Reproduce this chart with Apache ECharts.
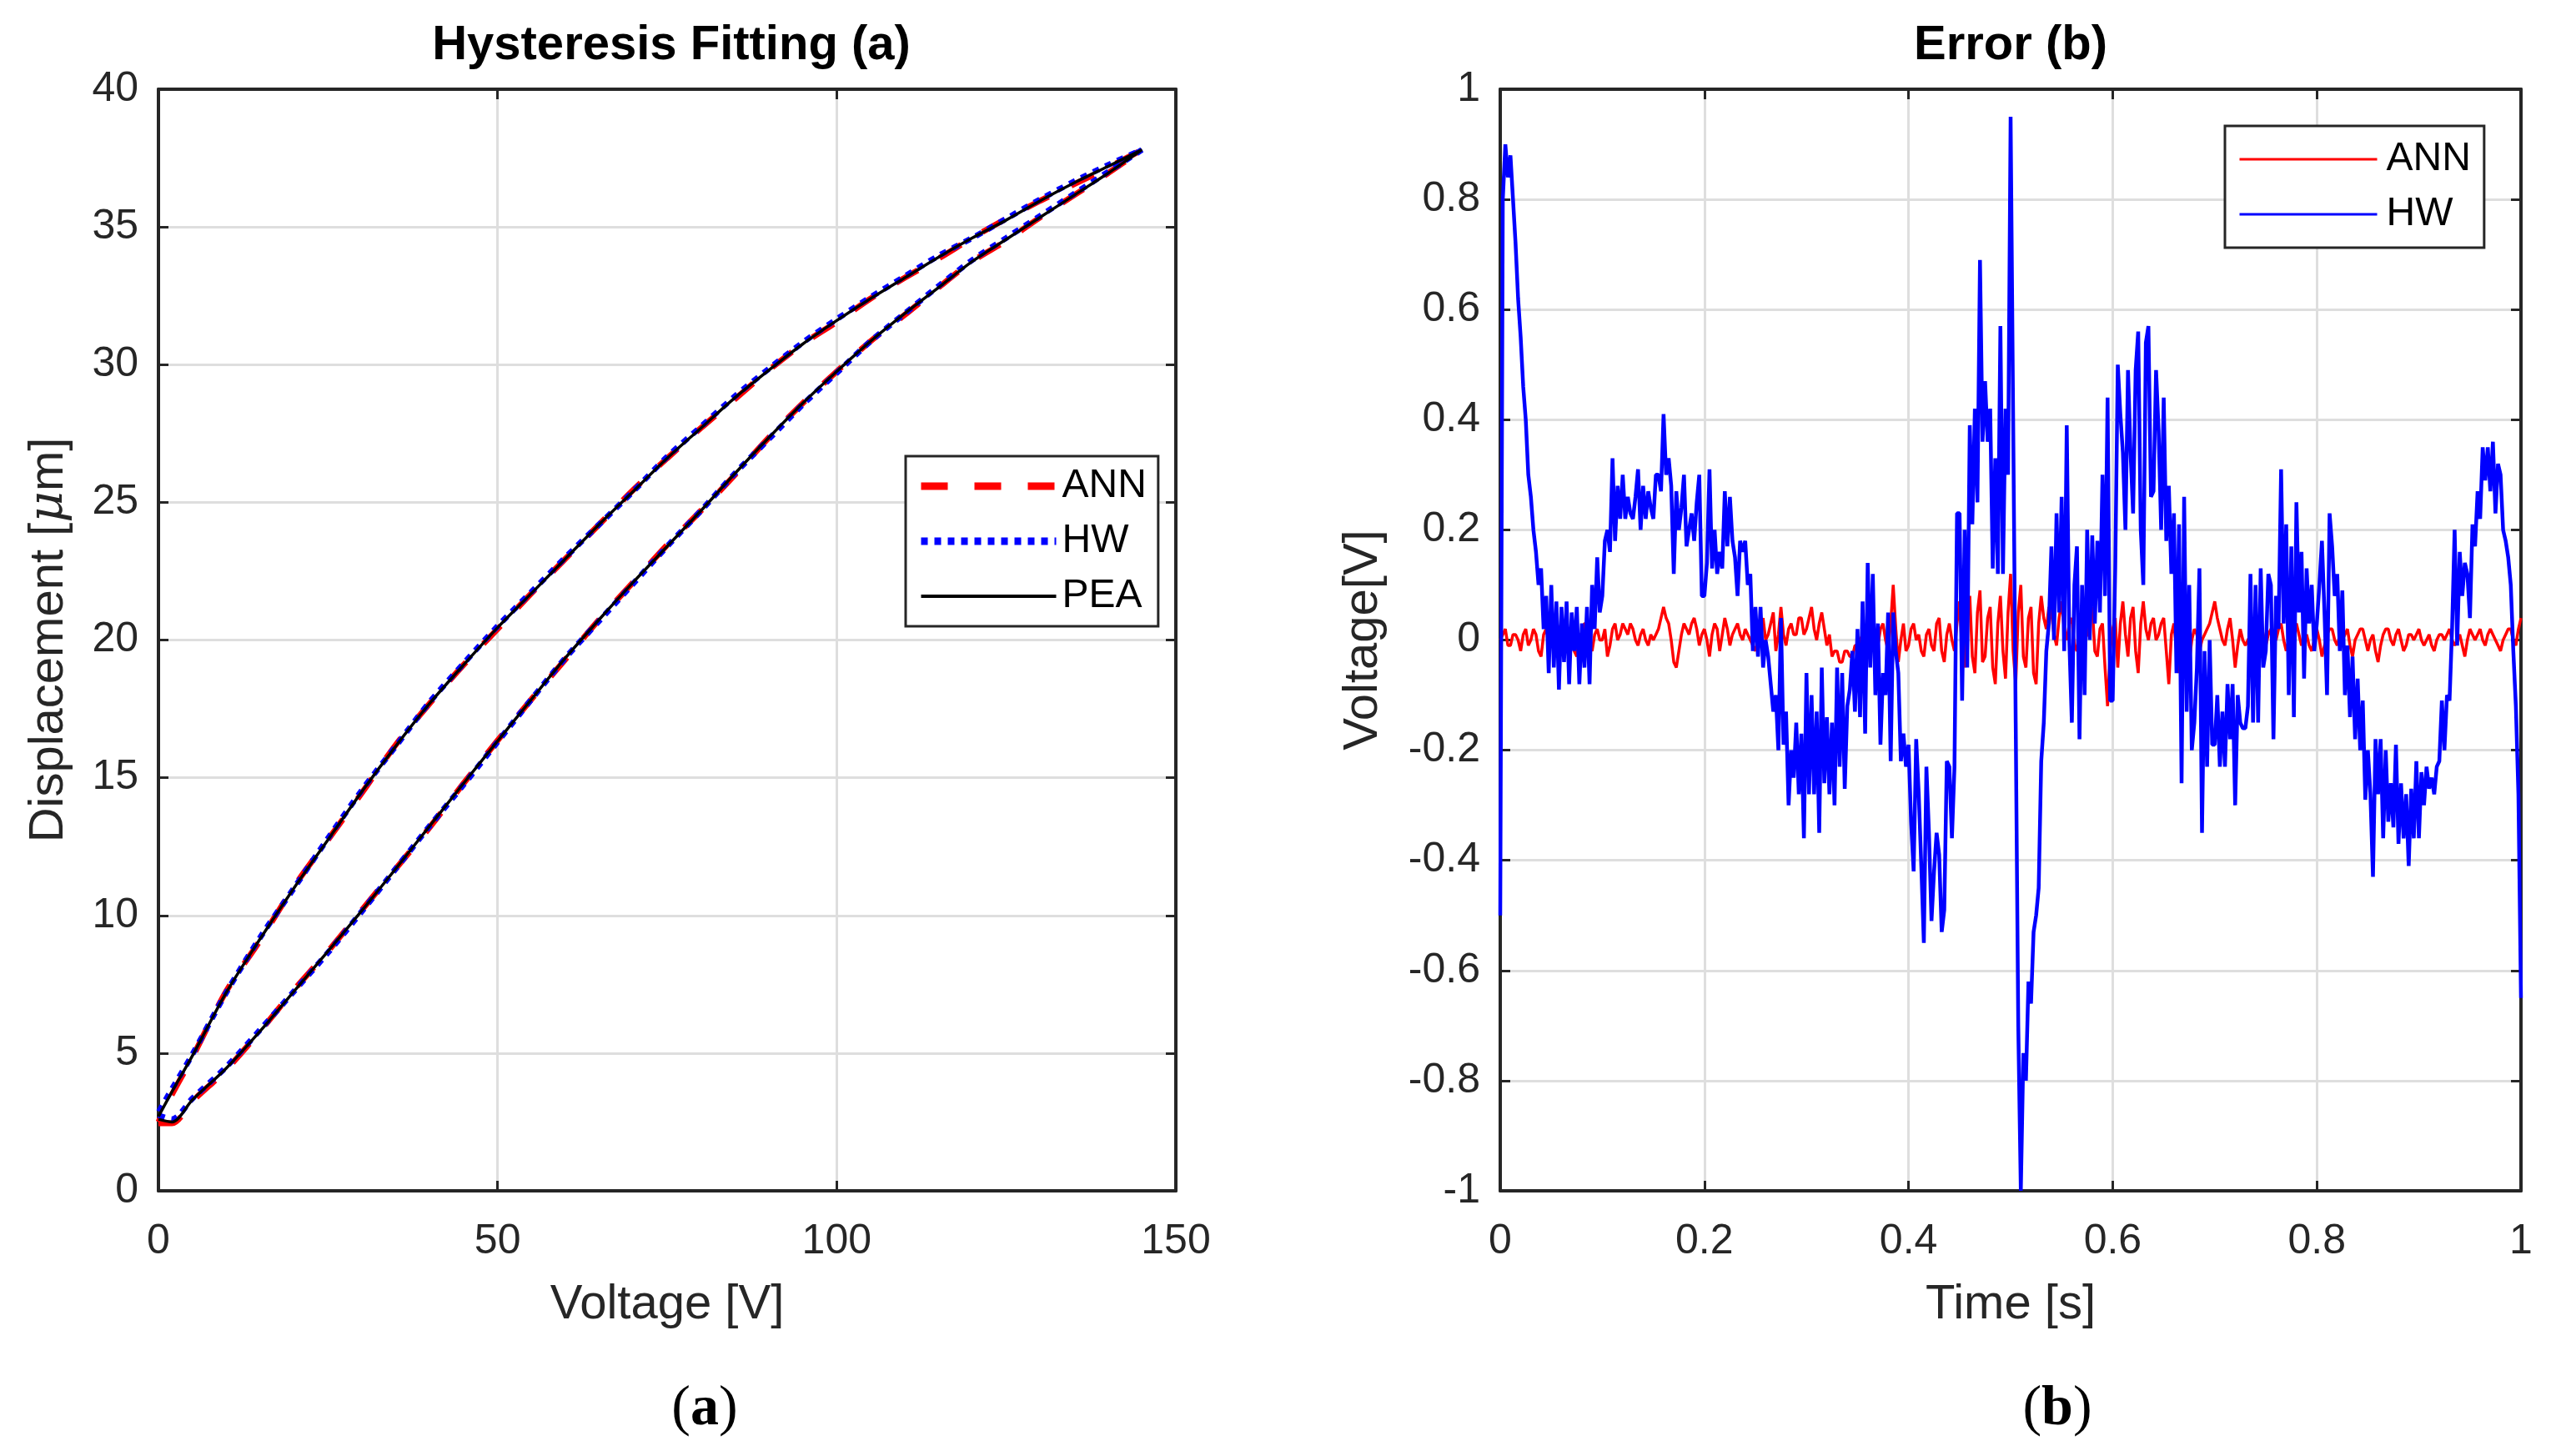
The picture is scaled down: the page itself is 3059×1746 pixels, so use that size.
<!DOCTYPE html>
<html>
<head>
<meta charset="utf-8">
<script src="https://cdn.jsdelivr.net/npm/echarts@6/dist/echarts.min.js"></script>
<style>
html,body{margin:0;padding:0;background:#fff;}
#chart{width:3059px;height:1746px;}
</style>
</head>
<body>
<div id="chart"></div>
<script>
// ---------- (a) Hysteresis loop data ----------
const voltageLower = [0, 2, 5, 10, 15, 20, 25, 30, 35, 40, 45, 50, 55, 60, 65, 70, 75, 80, 85, 90, 95, 100, 105, 110, 115, 120, 125, 130, 135, 140, 145];
const peaLower = [2.6, 2.5, 3.3, 4.45, 5.8, 7.25, 8.7, 10.18, 11.7, 13.25, 14.8, 16.33, 17.85, 19.35, 20.75, 22.1, 23.4, 24.7, 26.05, 27.35, 28.6, 29.75, 30.85, 31.85, 32.8, 33.75, 34.55, 35.35, 36.15, 36.95, 37.8];
const annLower = [2.45, 2.45, 3.25, 4.4, 5.8, 7.3, 8.7, 10.2, 11.7, 13.2, 14.8, 16.35, 17.85, 19.3, 20.75, 22.1, 23.45, 24.7, 26.0, 27.35, 28.6, 29.75, 30.85, 31.8, 32.8, 33.75, 34.5, 35.35, 36.15, 36.95, 37.8];
const hwLower = [2.75, 2.6, 3.35, 4.5, 5.85, 7.25, 8.65, 10.15, 11.7, 13.25, 14.75, 16.3, 17.85, 19.35, 20.7, 22.05, 23.4, 24.7, 26.05, 27.3, 28.55, 29.7, 30.85, 31.85, 32.85, 33.8, 34.6, 35.4, 36.2, 37.0, 37.8];

const voltageUpper = [145, 140, 135, 130, 125, 120, 115, 110, 105, 100, 95, 90, 85, 80, 75, 70, 65, 60, 55, 50, 45, 40, 35, 30, 25, 20, 15, 10, 5, 2, 0];
const peaUpper = [37.8, 37.2, 36.6, 35.95, 35.25, 34.6, 33.9, 33.15, 32.4, 31.6, 30.75, 29.8, 28.8, 27.7, 26.6, 25.4, 24.2, 22.95, 21.7, 20.45, 19.1, 17.7, 16.15, 14.5, 12.75, 11.0, 9.15, 7.2, 4.9, 3.6, 2.7];
const annUpper = [37.8, 37.15, 36.55, 35.95, 35.3, 34.6, 33.85, 33.15, 32.4, 31.55, 30.75, 29.8, 28.75, 27.7, 26.6, 25.45, 24.2, 22.95, 21.7, 20.4, 19.1, 17.7, 16.2, 14.45, 12.75, 11.05, 9.1, 7.25, 4.85, 3.5, 2.5];
const hwUpper = [37.8, 37.25, 36.65, 36.0, 35.3, 34.6, 33.95, 33.2, 32.45, 31.65, 30.8, 29.85, 28.85, 27.75, 26.65, 25.4, 24.2, 23.0, 21.75, 20.5, 19.15, 17.75, 16.15, 14.55, 12.8, 11.0, 9.2, 7.2, 4.95, 3.7, 2.85];

// ---------- (b) Error data, evenly sampled over 0..1 s ----------
const hwError = [
 -0.50, 0.80, 0.90, 0.84, 0.88, 0.80, 0.72, 0.62, 0.55, 0.46, 0.40, 0.30, 0.26, 0.20, 0.16, 0.10, 0.13, 0.02, 0.08, -0.06,
 0.10, -0.05, 0.07, -0.09, 0.06, -0.04, 0.07, -0.08, 0.05, -0.02, 0.06, -0.08, 0.03, -0.05, 0.06, -0.08, 0.10, 0.02, 0.15, 0.05,
 0.08, 0.18, 0.20, 0.16, 0.33, 0.18, 0.28, 0.22, 0.30, 0.22, 0.26, 0.23, 0.22, 0.26, 0.31, 0.20, 0.28, 0.22, 0.27, 0.24,
 0.22, 0.30, 0.30, 0.27, 0.41, 0.30, 0.33, 0.28, 0.12, 0.27, 0.20, 0.24, 0.30, 0.17, 0.20, 0.23, 0.18, 0.25, 0.30, 0.08,
 0.08, 0.14, 0.31, 0.13, 0.20, 0.12, 0.16, 0.13, 0.27, 0.17, 0.26, 0.18, 0.15, 0.08, 0.18, 0.16, 0.18, 0.10, 0.12, -0.02,
 0.06, -0.03, 0.06, -0.05, 0.00, -0.03, -0.08, -0.13, -0.10, -0.20, 0.04, -0.19, -0.13, -0.30, -0.20, -0.25, -0.15, -0.28, -0.17, -0.36,
 -0.06, -0.28, -0.10, -0.28, -0.13, -0.35, -0.05, -0.26, -0.14, -0.28, -0.15, -0.30, -0.05, -0.23, -0.06, -0.27, -0.12, -0.09, -0.02, -0.13,
 0.02, -0.14, 0.07, -0.17, 0.14, -0.05, 0.12, -0.10, 0.03, -0.19, -0.06, -0.10, 0.05, -0.22, 0.05, -0.02, -0.06, -0.22, -0.17, -0.23,
 -0.19, -0.33, -0.42, -0.18, -0.28, -0.41, -0.55, -0.23, -0.35, -0.51, -0.42, -0.35, -0.39, -0.53, -0.49, -0.22, -0.23, -0.36, -0.23, 0.23,
 0.23, -0.11, 0.20, -0.05, 0.39, 0.21, 0.42, 0.25, 0.69, 0.36, 0.47, 0.36, 0.42, 0.13, 0.33, 0.12, 0.57, 0.12, 0.42, 0.30,
 0.95, 0.40, -0.15, -0.70, -1.00, -0.75, -0.80, -0.62, -0.66, -0.53, -0.50, -0.45, -0.22, -0.15, -0.02, 0.03, 0.17, 0.00, 0.23, 0.05,
 0.26, -0.02, 0.39, 0.00, -0.15, 0.10, 0.17, -0.18, 0.10, -0.10, 0.20, 0.00, 0.19, 0.03, 0.18, 0.05, 0.30, 0.08, 0.44, -0.11,
 -0.11, 0.13, 0.50, 0.41, 0.34, 0.20, 0.49, 0.34, 0.23, 0.49, 0.56, 0.20, 0.10, 0.54, 0.57, 0.26, 0.27, 0.49, 0.38, 0.20,
 0.44, 0.18, 0.28, 0.12, 0.23, -0.06, 0.21, -0.26, 0.26, -0.13, 0.10, -0.20, -0.15, -0.05, 0.13, -0.35, -0.02, -0.23, 0.00, -0.19,
 -0.19, -0.10, -0.23, -0.13, -0.23, -0.08, -0.18, -0.08, -0.30, -0.10, -0.15, -0.16, -0.16, -0.12, 0.12, -0.15, 0.10, -0.15, 0.13, -0.05,
 -0.02, 0.12, 0.10, -0.18, 0.08, 0.02, 0.31, 0.03, 0.21, -0.10, 0.17, -0.14, 0.25, 0.05, 0.16, -0.07, 0.13, 0.03, 0.10, -0.02,
 0.03, 0.10, 0.18, 0.05, -0.10, 0.23, 0.17, 0.08, 0.12, -0.02, 0.09, -0.10, -0.01, -0.14, -0.03, -0.18, -0.07, -0.20, -0.11, -0.29,
 -0.20, -0.28, -0.43, -0.18, -0.28, -0.18, -0.36, -0.20, -0.33, -0.26, -0.34, -0.19, -0.37, -0.26, -0.36, -0.28, -0.41, -0.27, -0.36, -0.22,
 -0.36, -0.24, -0.30, -0.23, -0.27, -0.25, -0.28, -0.23, -0.22, -0.11, -0.20, -0.10, -0.11, 0.02, 0.20, -0.01, 0.16, 0.08, 0.14, 0.12,
 0.04, 0.21, 0.17, 0.27, 0.22, 0.35, 0.29, 0.35, 0.27, 0.36, 0.23, 0.32, 0.30, 0.20, 0.18, 0.15, 0.10, -0.02, -0.12, -0.28,
 -0.65
];
const annError = [
 0.00, 0.01, 0.02, -0.01, -0.01, 0.01, 0.01, 0.00, -0.02, 0.01, 0.02, -0.01, 0.00, 0.02, 0.01, -0.02, -0.03, 0.01, 0.02, 0.00,
 0.01, -0.01, -0.02, 0.02, 0.03, 0.00, -0.01, 0.02, 0.02, -0.02, -0.03, 0.01, 0.01, 0.03, 0.03, -0.01, -0.02, 0.01, 0.02, 0.00,
 0.00, 0.02, -0.03, -0.01, 0.02, 0.03, 0.00, 0.01, 0.03, 0.02, 0.01, 0.03, 0.02, 0.00, -0.01, 0.01, 0.02, 0.00, -0.01, 0.01,
 0.00, 0.01, 0.02, 0.04, 0.06, 0.04, 0.03, 0.00, -0.04, -0.05, -0.02, 0.01, 0.03, 0.02, 0.01, 0.03, 0.04, 0.02, -0.01, 0.01,
 0.02, 0.00, -0.03, 0.01, 0.03, 0.02, -0.02, 0.01, 0.04, 0.02, -0.01, 0.01, 0.02, 0.03, 0.01, 0.00, 0.02, 0.01, 0.00, -0.01,
 -0.02, 0.00, 0.02, 0.04, 0.00, 0.01, 0.03, 0.05, -0.02, 0.01, 0.06, 0.01, -0.01, 0.02, 0.03, 0.01, 0.01, 0.04, 0.04, 0.01,
 0.02, 0.04, 0.06, 0.02, 0.00, 0.03, 0.05, 0.02, -0.01, 0.01, -0.03, -0.02, -0.02, -0.04, -0.04, -0.02, -0.02, -0.03, -0.03, -0.01,
 -0.01, 0.00, 0.01, -0.02, -0.03, 0.00, 0.02, -0.01, -0.01, 0.02, 0.03, 0.00, -0.02, 0.03, 0.10, 0.02, -0.04, 0.00, 0.03, -0.02,
 -0.01, 0.02, 0.03, 0.00, 0.01, -0.02, -0.03, 0.01, 0.02, -0.01, -0.02, 0.03, 0.04, -0.02, -0.04, 0.01, 0.03, 0.00, -0.02, 0.03,
 0.07, -0.02, -0.05, 0.04, 0.08, -0.03, -0.06, 0.05, 0.09, -0.04, -0.03, 0.04, 0.06, -0.05, -0.08, 0.03, 0.08, -0.02, -0.07, 0.05,
 0.12, -0.02, -0.08, 0.05, 0.10, -0.03, -0.05, 0.04, 0.06, -0.06, -0.08, 0.03, 0.08, 0.04, 0.02, 0.06, 0.05, 0.01, -0.01, 0.04,
 0.07, 0.02, 0.00, 0.03, 0.04, -0.01, -0.02, 0.04, 0.05, 0.00, 0.01, 0.05, 0.06, -0.02, -0.03, 0.02, 0.03, -0.05, -0.12, -0.02,
 0.02, 0.04, -0.05, 0.03, 0.07, 0.01, -0.03, 0.04, 0.06, -0.02, -0.06, 0.03, 0.07, 0.02, 0.00, 0.03, 0.04, 0.00, 0.01, 0.03,
 0.04, -0.02, -0.08, 0.01, 0.03, -0.02, -0.06, 0.02, 0.03, -0.01, -0.04, 0.00, 0.02, 0.01, -0.02, 0.00, 0.01, 0.02, 0.03, 0.05,
 0.07, 0.04, 0.02, 0.00, -0.01, 0.02, 0.04, 0.00, -0.05, -0.01, 0.02, 0.00, -0.01, 0.00, 0.01, -0.01, -0.03, 0.01, 0.03, 0.01,
 -0.01, 0.01, 0.02, 0.01, 0.00, 0.02, 0.03, 0.00, -0.02, 0.00, 0.01, 0.02, 0.03, 0.01, -0.01, 0.00, 0.01, -0.01, -0.02, 0.00,
 0.02, 0.00, -0.03, -0.01, 0.01, 0.02, 0.02, 0.00, -0.01, 0.01, 0.00, 0.01, 0.02, -0.01, -0.03, 0.00, 0.01, 0.02, 0.02, 0.00,
 -0.02, 0.00, 0.01, -0.02, -0.04, -0.01, 0.01, 0.02, 0.02, 0.00, -0.01, 0.01, 0.02, 0.00, -0.02, -0.01, 0.01, 0.01, 0.00, 0.01,
 0.02, 0.00, -0.01, 0.00, 0.01, -0.01, -0.02, 0.00, 0.01, 0.01, 0.00, 0.01, 0.02, 0.00, -0.01, 0.00, 0.01, -0.01, -0.03, 0.00,
 0.02, 0.01, 0.00, 0.01, 0.02, 0.00, -0.01, 0.01, 0.02, 0.01, 0.00, -0.01, -0.02, 0.00, 0.01, 0.02, 0.02, 0.00, -0.01, 0.02,
 0.04
];

// ---------- tick settings ----------
const xTicksA = {min: 0, max: 150, interval: 50};
const yTicksA = {min: 0, max: 40, interval: 5};
const xTicksB = {min: 0, max: 1, interval: 0.2};
const yTicksB = {min: -1, max: 1, interval: 0.2};
const timeStart = 0, timeEnd = 1;

// ---------- build ----------
function loop(lowerY, upperY) {
  const pts = voltageLower.map((v, i) => [v, lowerY[i]]);
  for (let i = 1; i < voltageUpper.length; i++) pts.push([voltageUpper[i], upperY[i]]);
  return pts;
}
function timeSeries(arr) {
  const step = (timeEnd - timeStart) / (arr.length - 1);
  return arr.map((v, i) => [timeStart + i * step, v]);
}

const FONT = "'Liberation Sans', Arial, Helvetica, sans-serif";
const SERIF = "'Liberation Serif', 'DejaVu Serif', serif";
const DARK = '#262626';

function fmt(v) { return String(Math.round(v * 10) / 10); }

function mainAxis(t, extra) {
  return Object.assign({
    type: 'value', min: t.min, max: t.max, interval: t.interval,
    axisLine: {show: true, onZero: false, lineStyle: {color: DARK, width: 4}},
    axisTick: {show: true, inside: true, length: 12, lineStyle: {color: DARK, width: 3}},
    splitLine: {show: true, lineStyle: {color: '#dedede', width: 3}},
    nameLocation: 'middle',
    nameTextStyle: {color: DARK, fontSize: 58, fontFamily: FONT}
  }, extra);
}
function mirrorAxis(t, extra) {
  return Object.assign({
    type: 'value', min: t.min, max: t.max, interval: t.interval,
    axisLine: {show: true, onZero: false, lineStyle: {color: DARK, width: 4}},
    axisTick: {show: true, inside: true, length: 12, lineStyle: {color: DARK, width: 3}},
    axisLabel: {show: false},
    splitLine: {show: false}
  }, extra);
}
const xLabel = {show: true, color: DARK, fontSize: 50, fontFamily: FONT, margin: 36, formatter: fmt};
const yLabel = {show: true, color: DARK, fontSize: 50, fontFamily: FONT, margin: 24, formatter: fmt};

const chart = echarts.init(document.getElementById('chart'));
chart.setOption({
  backgroundColor: '#fff',
  animation: false,
  grid: [
    {left: 190, top: 107, width: 1220, height: 1321, containLabel: false},
    {left: 1799, top: 107, width: 1224, height: 1321, containLabel: false}
  ],
  xAxis: [
    mainAxis(xTicksA, {gridIndex: 0, position: 'bottom', name: 'Voltage [V]', nameGap: 108, axisLabel: xLabel}),
    mirrorAxis(xTicksA, {gridIndex: 0, position: 'top'}),
    mainAxis(xTicksB, {gridIndex: 1, position: 'bottom', name: 'Time [s]', nameGap: 108, axisLabel: xLabel}),
    mirrorAxis(xTicksB, {gridIndex: 1, position: 'top'})
  ],
  yAxis: [
    mainAxis(yTicksA, {gridIndex: 0, position: 'left', name: 'Displacement [{mu|μ}m]', nameGap: 102,
      nameTextStyle: {color: DARK, fontSize: 58, fontFamily: FONT,
        rich: {mu: {fontSize: 58, fontFamily: "'DejaVu Serif', 'Liberation Serif', serif", fontStyle: 'italic', color: DARK}}},
      axisLabel: yLabel}),
    mirrorAxis(yTicksA, {gridIndex: 0, position: 'right'}),
    mainAxis(yTicksB, {gridIndex: 1, position: 'left', name: 'Voltage[V]', nameGap: 135, axisLabel: yLabel}),
    mirrorAxis(yTicksB, {gridIndex: 1, position: 'right'})
  ],
  legend: [
    {
      data: [
        {name: 'ANN', lineStyle: {color: '#ff0000', width: 9, type: [32, 32]}},
        {name: 'HW', lineStyle: {color: '#0000ff', width: 9, type: [8, 8]}},
        {name: 'PEA', lineStyle: {color: '#000000', width: 4}}
      ],
      orient: 'vertical', left: 1086, top: 547,
      itemWidth: 162, itemHeight: 24, itemGap: 18, padding: [12, 14, 12, 14],
      borderColor: DARK, borderWidth: 3, backgroundColor: '#fff', borderRadius: 0,
      selectedMode: false,
      itemStyle: {opacity: 0},
      textStyle: {fontSize: 48, color: '#000', fontFamily: FONT, padding: [0, 0, 0, 2]}
    },
    {
      data: [
        {name: 'ANN_b', lineStyle: {color: '#ff0000', width: 3, type: 'solid'}},
        {name: 'HW_b', lineStyle: {color: '#0000ff', width: 3, type: 'solid'}}
      ],
      orient: 'vertical', left: 2668, top: 151,
      formatter: n => n.replace('_b', ''),
      itemWidth: 165, itemHeight: 20, itemGap: 18, padding: [16, 16, 16, 16],
      borderColor: DARK, borderWidth: 3, backgroundColor: '#fff', borderRadius: 0,
      selectedMode: false,
      itemStyle: {opacity: 0},
      textStyle: {fontSize: 48, color: '#000', fontFamily: FONT, padding: [0, 0, 0, 6]}
    }
  ],
  graphic: [
    {type: 'text', x: 805, y: 55, style: {text: 'Hysteresis Fitting (a)', font: "bold 58px 'Liberation Sans', Arial, sans-serif", fill: '#000', textAlign: 'center', textVerticalAlign: 'middle'}},
    {type: 'text', x: 2411, y: 55, style: {text: 'Error (b)', font: "bold 58px 'Liberation Sans', Arial, sans-serif", fill: '#000', textAlign: 'center', textVerticalAlign: 'middle'}},
    {type: 'text', x: 845, y: 1690, style: {text: '{n|(}{b|a}{n|)}', textAlign: 'center', textVerticalAlign: 'middle',
      rich: {n: {fontSize: 68, fontFamily: SERIF, fill: '#000'},
             b: {fontSize: 68, fontWeight: 'bold', fontFamily: SERIF, fill: '#000'}}}},
    {type: 'text', x: 2467, y: 1690, style: {text: '{n|(}{b|b}{n|)}', textAlign: 'center', textVerticalAlign: 'middle',
      rich: {n: {fontSize: 68, fontFamily: SERIF, fill: '#000'},
             b: {fontSize: 68, fontWeight: 'bold', fontFamily: SERIF, fill: '#000'}}}}
  ],
  series: [
    {name: 'ANN', type: 'line', xAxisIndex: 0, yAxisIndex: 0, data: loop(annLower, annUpper), symbol: 'none', smooth: 0.3,
      lineStyle: {color: '#ff0000', width: 7, type: [30, 30]}, itemStyle: {color: '#ff0000'}},
    {name: 'HW', type: 'line', xAxisIndex: 0, yAxisIndex: 0, data: loop(hwLower, hwUpper), symbol: 'none', smooth: 0.3,
      lineStyle: {color: '#0000ff', width: 7, type: [8, 8]}, itemStyle: {color: '#0000ff'}},
    {name: 'PEA', type: 'line', xAxisIndex: 0, yAxisIndex: 0, data: loop(peaLower, peaUpper), symbol: 'none', smooth: 0.3,
      lineStyle: {color: '#000000', width: 3.5}, itemStyle: {color: '#000000'}},
    {name: 'ANN_b', type: 'line', xAxisIndex: 2, yAxisIndex: 2, data: timeSeries(annError), symbol: 'none',
      lineStyle: {color: '#ff0000', width: 3.5}, itemStyle: {color: '#ff0000'}},
    {name: 'HW_b', type: 'line', xAxisIndex: 2, yAxisIndex: 2, data: timeSeries(hwError), symbol: 'none',
      lineStyle: {color: '#0000ff', width: 4.5}, itemStyle: {color: '#0000ff'}}
  ]
});
</script>
</body>
</html>
